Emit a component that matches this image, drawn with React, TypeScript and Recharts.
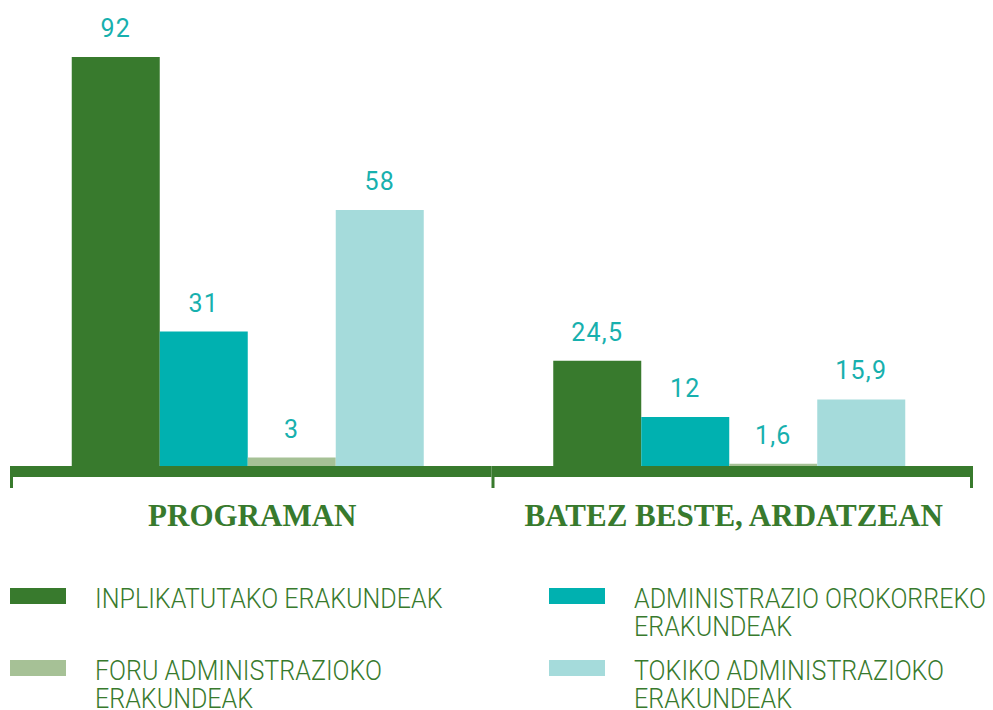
import React from 'react';
import { BarChart, Bar, XAxis, YAxis, LabelList } from 'recharts';

const categories = ['PROGRAMAN', 'BATEZ BESTE, ARDATZEAN'];
const inplikatutako = [92, 24.5];
const administrazioOrokorra = [31, 12];
const foruAdministrazio = [3, 1.6];
const tokikoAdministrazio = [58, 15.9];

const SERIES = [
  { key: 'inplikatutako', name: 'INPLIKATUTAKO ERAKUNDEAK', color: '#387a2d' },
  { key: 'orokorra', name: 'ADMINISTRAZIO OROKORREKO ERAKUNDEAK', color: '#00b1b0' },
  { key: 'foru', name: 'FORU ADMINISTRAZIOKO ERAKUNDEAK', color: '#a6c196' },
  { key: 'tokiko', name: 'TOKIKO ADMINISTRAZIOKO ERAKUNDEAK', color: '#a5dbdb' },
];

const data = categories.map((name, i) => ({
  name,
  inplikatutako: inplikatutako[i],
  orokorra: administrazioOrokorra[i],
  foru: foruAdministrazio[i],
  tokiko: tokikoAdministrazio[i],
}));

const GREEN = '#387a2d';
const LABEL_COLOR = '#17b0ae';
const BAND = 481.5;

const formatValue = (v: any) => String(v).replace('.', ',');

const CategoryTick: React.FC<any> = ({ x, y, payload, index }) => {
  const left = x - BAND / 2 + 3;
  return (
    <g>
      <rect x={left} y={y - 5} width={BAND} height={11} fill={GREEN} />
      <rect x={left} y={y + 6} width={3} height={11} fill={GREEN} />
      {index === categories.length - 1 && (
        <rect x={left + BAND - 3} y={y + 6} width={3} height={11} fill={GREEN} />
      )}
      <text
        x={x + 4.5}
        y={y + 55}
        textAnchor="middle"
        fill={GREEN}
        fontFamily="'Liberation Serif', 'DejaVu Serif', serif"
        fontWeight="bold"
        fontSize={31}
      >
        {payload.value}
      </text>
    </g>
  );
};

const legendRows = [
  [SERIES[0], SERIES[1]],
  [SERIES[2], SERIES[3]],
];

const Legend: React.FC = () => (
  <>
    {legendRows.map((row, r) =>
      row.map((s, c) => {
        const left = c === 0 ? 10 : 549;
        const top = 588 + r * 72;
        const words = s.name.split(' ');
        const lines =
          s.key === 'inplikatutako'
            ? [s.name]
            : [words.slice(0, -1).join(' '), words[words.length - 1]];
        return (
          <div key={s.key}>
            <div
              style={{
                position: 'absolute',
                left,
                top,
                width: 56,
                height: 16,
                background: s.color,
              }}
            />
            <div
              style={{
                position: 'absolute',
                left: left + 85,
                top: top - 3,
                color: GREEN,
                fontFamily: "Roboto, 'Liberation Sans', sans-serif",
                fontWeight: 300,
                fontSize: 28,
                lineHeight: '28px',
                whiteSpace: 'nowrap',
                transform: 'scaleX(0.895)',
                transformOrigin: 'left top',
              }}
            >
              {lines.map((l) => (
                <div key={l}>{l}</div>
              ))}
            </div>
          </div>
        );
      })
    )}
  </>
);

export default function App() {
  return (
    <div
      style={{
        position: 'absolute',
        left: 0,
        top: 0,
        width: 993,
        height: 710,
        background: '#fff',
        overflow: 'hidden',
      }}
    >
      <BarChart
        width={993}
        height={710}
        data={data}
        margin={{ top: 57, right: 23, left: 7, bottom: 179 }}
        barCategoryGap={64.75}
        barGap={0}
      >
        <YAxis hide domain={[0, 92]} />
        {SERIES.map((s) => (
          <Bar key={s.key} dataKey={s.key} name={s.name} fill={s.color} isAnimationActive={false}>
            <LabelList
              dataKey={s.key}
              position="top"
              offset={20}
              formatter={formatValue}
              fill={LABEL_COLOR}
              fontSize={25}
              fontWeight={400}
              letterSpacing={1.2}
              fontFamily="Roboto, 'Liberation Sans', sans-serif"
            />
          </Bar>
        ))}
        <XAxis
          dataKey="name"
          axisLine={false}
          tickLine={false}
          tickSize={0}
          tickMargin={0}
          height={60}
          interval={0}
          tick={<CategoryTick />}
        />
      </BarChart>
      <Legend />
    </div>
  );
}
